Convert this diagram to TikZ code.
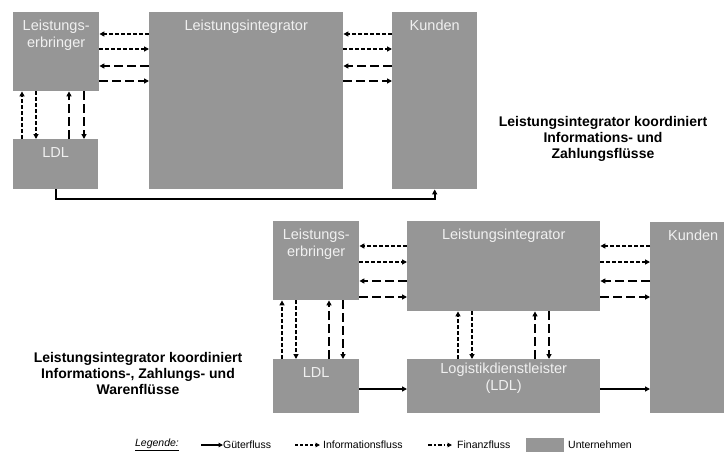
\documentclass[tikz,border=0pt]{standalone}
\usepackage{fontspec}
\setmainfont{Liberation Sans}
\usetikzlibrary{arrows.meta}
\definecolor{boxgray}{RGB}{150,150,150}
\definecolor{boxtext}{RGB}{240,240,240}
\begin{document}
\begin{tikzpicture}[x=1pt,y=-1pt,
  box/.style={fill=boxgray, draw=none, inner sep=0pt, anchor=north west},
  lbl/.style={text=boxtext, font=\fontsize{14.5}{16.5}\selectfont, align=center, anchor=north, inner sep=0pt},
  flow/.style={line width=1.6pt, -{Triangle[length=5pt,width=5pt]}},
  info/.style={flow, dash pattern=on 4pt off 2pt},
  fin/.style={flow, dash pattern=on 9pt off 4pt},
  goods/.style={flow, line width=1.9pt},
  lflow/.style={line width=1.3pt, -{Triangle[length=4.5pt,width=4.5pt]}},
  note/.style={font=\bfseries\fontsize{14}{16}\selectfont, align=center},
  leg/.style={font=\fontsize{10.5}{12}\selectfont, anchor=west, inner sep=0pt}
]
\useasboundingbox (0,0) rectangle (724,453);
\clip (0,0) rectangle (724,453);
\fill[white] (0,0) rectangle (724,453);

% ---------- top diagram ----------
\node[box, minimum width=86pt, minimum height=79pt] (le1) at (13,12) {};
\node[box, minimum width=85pt, minimum height=50pt] (ldl1) at (13,139) {};
\node[box, minimum width=194pt, minimum height=177pt] (li1) at (149,12) {};
\node[box, minimum width=85pt, minimum height=177pt] (ku1) at (392,12) {};

\node[lbl] (le1t) at ([yshift=-8pt]le1.north) {Leistungs-\\erbringer};
\node[lbl] (ldl1t) at ([yshift=-8pt]ldl1.north) {LDL};
\node[lbl] (li1t) at ([yshift=-8pt]li1.north) {Leistungsintegrator};
\node[lbl] (ku1t) at ([yshift=-8pt]ku1.north) {Kunden};

\draw[info] (li1.west |- 0,34) -- (le1.east |- 0,34);
\draw[info] (le1.east |- 0,49) -- (li1.west |- 0,49);
\draw[fin] (li1.west |- 0,66) -- (le1.east |- 0,66);
\draw[fin] (le1.east |- 0,81) -- (li1.west |- 0,81);
\draw[info] (ku1.west |- 0,34) -- (li1.east |- 0,34);
\draw[info] (li1.east |- 0,49) -- (ku1.west |- 0,49);
\draw[fin] (ku1.west |- 0,66) -- (li1.east |- 0,66);
\draw[fin] (li1.east |- 0,81) -- (ku1.west |- 0,81);

\draw[info] (ldl1.north -| 22,0) -- (le1.south -| 22,0);
\draw[info] (le1.south -| 36,0) -- (ldl1.north -| 36,0);
\draw[fin] (ldl1.north -| 69,0) -- (le1.south -| 69,0);
\draw[fin] (le1.south -| 84,0) -- (ldl1.north -| 84,0);

\draw[goods] (ldl1.south) -- ++(0,10) -| (ku1.south);

\node[note] (n1) at (603,139) {Leistungsintegrator koordiniert\\Informations- und\\Zahlungsflüsse};

% ---------- bottom diagram ----------
\node[box, minimum width=86pt, minimum height=79pt] (le2) at (273,221) {};
\node[box, minimum width=86pt, minimum height=54pt] (ldl2) at (273,359) {};
\node[box, minimum width=193pt, minimum height=90pt] (li2) at (407,221) {};
\node[box, minimum width=193pt, minimum height=54pt] (log) at (407,359) {};
\node[box, minimum width=86pt, minimum height=191pt] (ku2) at (650,222) {};

\node[lbl] (le2t) at ([yshift=-8pt]le2.north) {Leistungs-\\erbringer};
\node[lbl] (ldl2t) at ([yshift=-8pt]ldl2.north) {LDL};
\node[lbl] (li2t) at ([yshift=-8pt]li2.north) {Leistungsintegrator};
\node[lbl] (logt) at ([yshift=-4pt]log.north) {Logistikdienstleister\\(LDL)};
\node[lbl] (ku2t) at ([yshift=-8pt]ku2.north) {Kunden};

\draw[info] (li2.west |- 0,246) -- (le2.east |- 0,246);
\draw[info] (le2.east |- 0,262) -- (li2.west |- 0,262);
\draw[fin] (li2.west |- 0,281) -- (le2.east |- 0,281);
\draw[fin] (le2.east |- 0,297) -- (li2.west |- 0,297);
\draw[info] (ku2.west |- 0,246) -- (li2.east |- 0,246);
\draw[info] (li2.east |- 0,262) -- (ku2.west |- 0,262);
\draw[fin] (ku2.west |- 0,281) -- (li2.east |- 0,281);
\draw[fin] (li2.east |- 0,297) -- (ku2.west |- 0,297);

\draw[info] (ldl2.north -| 282,0) -- (le2.south -| 282,0);
\draw[info] (le2.south -| 296,0) -- (ldl2.north -| 296,0);
\draw[fin] (ldl2.north -| 329,0) -- (le2.south -| 329,0);
\draw[fin] (le2.south -| 343,0) -- (ldl2.north -| 343,0);

\draw[info] (log.north -| 458,0) -- (li2.south -| 458,0);
\draw[info] (li2.south -| 472,0) -- (log.north -| 472,0);
\draw[fin] (log.north -| 535,0) -- (li2.south -| 535,0);
\draw[fin] (li2.south -| 549,0) -- (log.north -| 549,0);

\draw[goods] (ldl2.east |- 0,389) -- (log.west |- 0,389);
\draw[goods] (log.east |- 0,389) -- (ku2.west |- 0,389);

\node[note] (n2) at (138,373) {Leistungsintegrator koordiniert\\Informations-, Zahlungs- und\\Warenflüsse};

% ---------- legend ----------
\node[font=\itshape\fontsize{10.5}{12}\selectfont, inner sep=0pt] (legt) at (157,445) {\underline{Legende:}};
\node[leg] (lg1) at (223,445) {Güterfluss};
\draw[lflow] ([xshift=-22pt]lg1.west) -- (lg1.west);
\node[leg] (lg2) at (323,445) {Informationsfluss};
\draw[lflow, dash pattern=on 3pt off 2pt] ([xshift=-28pt]lg2.west) -- ([xshift=-3pt]lg2.west);
\node[leg] (lg3) at (457,445) {Finanzfluss};
\draw[lflow, dash pattern=on 4pt off 2pt on 1.5pt off 2pt] ([xshift=-29pt]lg3.west) -- ([xshift=-5pt]lg3.west);
\node[box, minimum width=38pt, minimum height=14pt] (legbox) at (526,438) {};
\node[leg] (lg4) at (568,445) {Unternehmen};
\end{tikzpicture}
\end{document}
